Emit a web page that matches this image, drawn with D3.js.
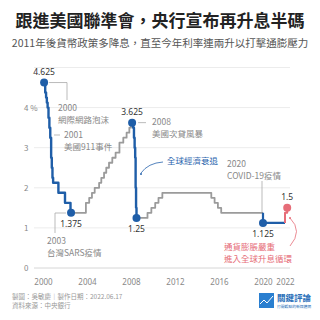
<!DOCTYPE html>
<html>
<head>
<meta charset="utf-8">
<script src="https://cdn.jsdelivr.net/npm/d3@7"></script>
<style>
  body { margin: 0; background: #fff; }
  svg text { font-family: "Noto Sans CJK TC", "Noto Sans", sans-serif; }
</style>
</head>
<body>
<div class="chart"></div>
<script>
// 重貼現率 (%) — step points, split into coloured runs
var cut2001Years = [2000.1, 2000.2, 2000.28, 2000.35, 2000.42, 2000.5, 2000.58, 2000.66, 2000.74, 2000.8, 2000.86, 2000.92, 2001.4, 2002.0, 2002.5, 2002.55];
var cut2001Rates = [4.625, 4.375, 4.25, 4.125, 4.0, 3.75, 3.5, 3.25, 2.75, 2.5, 2.25, 2.125, 1.875, 1.625, 1.375, 1.375];

var hike2004Years = [2002.55, 2003.9, 2004.2, 2004.45, 2004.7, 2005.1, 2005.3, 2005.55, 2005.75, 2006.0, 2006.3, 2006.6, 2006.95, 2007.3, 2007.6, 2007.85, 2008.0, 2008.1];
var hike2004Rates = [1.375, 1.625, 1.75, 1.875, 2.0, 2.125, 2.25, 2.375, 2.5, 2.625, 2.75, 2.875, 3.125, 3.25, 3.375, 3.5, 3.625, 3.625];

var cut2008Years = [2008.1, 2008.2, 2008.27, 2008.33, 2008.38, 2008.42, 2008.46, 2008.5];
var cut2008Rates = [3.625, 3.5, 3.25, 3.0, 2.75, 2.0, 1.5, 1.25];

var flatYears = [2008.5, 2009.5, 2009.85, 2010.2, 2010.5, 2010.85, 2015.3, 2015.6, 2015.9, 2016.2, 2020.0];
var flatRates = [1.25, 1.375, 1.5, 1.625, 1.75, 1.875, 1.75, 1.625, 1.5, 1.375, 1.375];

var cut2020Years = [2020.0, 2020.0, 2022.0];
var cut2020Rates = [1.375, 1.125, 1.125];

var hike2022Years = [2022.0, 2022.0, 2022.2];
var hike2022Rates = [1.125, 1.375, 1.5];

var xTickYears = [2000, 2004, 2008, 2012, 2016, 2020, 2022];
var yTickValues = [0, 1, 2, 3, 4];
var gridValues = [0, 1, 2, 3, 4, 5];

var blue = "#1f5ea8", gray = "#9b9b9b", red = "#e66d78";

var w = 320, h = 320;
var svg = d3.select(".chart").append("svg")
  .attr("width", w).attr("height", h);

var x = d3.scaleLinear().domain([2000, 2022]).range([43, 285]);
var y = d3.scaleLinear().domain([0, 5]).range([268, 67.5]);

// titles
svg.append("text").attr("x", 160).attr("y", 27).attr("text-anchor", "middle")
  .style("font-size", "17px").style("font-weight", "bold").attr("fill", "#222")
  .text("跟進美國聯準會，央行宣布再升息半碼");
svg.append("text").attr("x", 160).attr("y", 47).attr("text-anchor", "middle")
  .style("font-size", "10.5px").attr("fill", "#555")
  .text("2011年後貨幣政策多降息，直至今年利率連兩升以打擊通膨壓力");

// grid
svg.selectAll(".grid").data(gridValues).enter().append("line")
  .attr("class", "grid")
  .attr("x1", 34).attr("x2", 290)
  .attr("y1", function(d) { return y(d); }).attr("y2", function(d) { return y(d); })
  .attr("stroke", function(d) { return d === 0 ? "#d6d6d6" : "#ececec"; })
  .attr("stroke-width", 1);

svg.selectAll(".ylab").data(yTickValues).enter().append("text")
  .attr("class", "ylab")
  .attr("x", 24).attr("y", function(d) { return y(d) + 3; })
  .style("font-size", "8px").attr("fill", "#888")
  .text(function(d) { return d === 4 ? "4 %" : d; });

var xAxis = d3.axisBottom(x).tickValues(xTickYears).tickSize(0).tickFormat(d3.format("d"));
var xg = svg.append("g").attr("transform", "translate(0,276)").call(xAxis);
xg.select(".domain").remove();
xg.selectAll("text").style("font-size", "8px").attr("fill", "#888")
  .style("font-family", "'Noto Sans', sans-serif");

// step line segments
var line = d3.line()
  .x(function(d) { return x(d[0]); })
  .y(function(d) { return y(d[1]); })
  .curve(d3.curveStepAfter);

function seg(years, rates, color, width) {
  var pts = years.map(function(v, i) { return [v, rates[i]]; });
  svg.append("path").datum(pts)
    .attr("d", line).attr("fill", "none")
    .attr("stroke", color).attr("stroke-width", width)
    .attr("stroke-linejoin", "round");
}
seg(hike2004Years, hike2004Rates, gray, 1.8);
seg(flatYears, flatRates, gray, 1.8);
seg(cut2001Years, cut2001Rates, blue, 2.4);
seg(cut2008Years, cut2008Rates, blue, 2.4);
seg(cut2020Years, cut2020Rates, blue, 2.2);
seg(hike2022Years, hike2022Rates, red, 2);

// highlighted points
var pointYears = [2000.1, 2002.55, 2008.1, 2008.5, 2020.0, 2022.2];
var pointRates = [4.625, 1.375, 3.625, 1.25, 1.125, 1.5];
var pointColors = [blue, blue, blue, blue, blue, red];
svg.selectAll(".pt").data(pointYears).enter().append("circle")
  .attr("class", "pt")
  .attr("cx", function(d) { return x(d); })
  .attr("cy", function(d, i) { return y(pointRates[i]); })
  .attr("r", 4)
  .attr("fill", function(d, i) { return pointColors[i]; });

// value labels
var labDx = [0, 0, 0, 0, 0, 0];
var labDy = [-8, 14, -8, 14, 14, -8];
svg.selectAll(".vlab").data(pointYears).enter().append("text")
  .attr("class", "vlab")
  .attr("x", function(d, i) { return x(d) + labDx[i]; })
  .attr("y", function(d, i) { return y(pointRates[i]) + labDy[i]; })
  .attr("text-anchor", "middle")
  .style("font-size", "8.5px").attr("fill", "#333")
  .style("font-family", "'Noto Sans', sans-serif")
  .text(function(d, i) { return pointRates[i]; });

// annotations
var ann = svg.append("g").style("font-size", "8.5px").attr("fill", "#888");
function note(px, py, lines, color) {
  lines.forEach(function(t, i) {
    ann.append("text").attr("x", px).attr("y", py + i * 12)
      .attr("fill", color || "#888").text(t);
  });
}
function leader(pts) {
  ann.append("path").attr("d", d3.line()(pts))
    .attr("fill", "none").attr("stroke", "#aaa").attr("stroke-width", 0.8);
}

leader([[x(2000.1) + 5, y(4.625)], [67, y(4.625)], [67, 100]]);
note(58, 111, ["2000", "網際網路泡沫"]);

leader([[54, 135], [60, 135]]);
note(64, 138, ["2001", "美國911事件"]);

leader([[x(2002.55) - 5, 213], [55, 213], [55, 233]]);
note(47, 244, ["2003", "台灣SARS疫情"]);

leader([[x(2008.1) + 6, y(3.625)], [146, y(3.625)]]);
note(152, 125, ["2008", "美國次貸風暴"]);

note(167, 164, ["全球經濟衰退"], "#2a64ad");
ann.append("path").attr("d", "M163,162 Q148,163 141,173")
  .attr("fill", "none").attr("stroke", "#2a64ad").attr("stroke-width", 0.8);
ann.append("circle").attr("cx", 141).attr("cy", 174).attr("r", 1).attr("fill", "#2a64ad");

leader([[262, 181], [262, 212]]);
note(227, 167, ["2020", "COVID-19疫情"]);

note(224, 250, ["通貨膨脹嚴重", "進入全球升息循環"], red);
ann.append("path").attr("d", "M290,218 Q303,231 290,246")
  .attr("fill", "none").attr("stroke", red).attr("stroke-width", 0.8);
ann.append("circle").attr("cx", 290).attr("cy", 218).attr("r", 1).attr("fill", red);

// footer
var foot = svg.append("g").style("font-size", "6.5px").attr("fill", "#999");
foot.append("text").attr("x", 12).attr("y", 299).text("製圖：吳敏慶｜製作日期：2022.06.17");
foot.append("text").attr("x", 12).attr("y", 308).text("資料來源：中央銀行");

// logo
var logo = svg.append("g");
logo.append("rect").attr("x", 259).attr("y", 293).attr("width", 15).attr("height", 15).attr("fill", "#2a7fd0");
logo.append("path").attr("d", "M260,304 L264,300 L267,303 L273,296")
  .attr("fill", "none").attr("stroke", "#fff").attr("stroke-width", 1);
logo.append("text").attr("x", 277).attr("y", 301).style("font-size", "8.5px")
  .style("font-weight", "bold").attr("fill", "#2a6fb8").text("關鍵評論");
logo.append("text").attr("x", 277).attr("y", 308).style("font-size", "3.8px")
  .attr("fill", "#2a6fb8").text("打開觀點的新媒體網");
</script>
</body>
</html>
